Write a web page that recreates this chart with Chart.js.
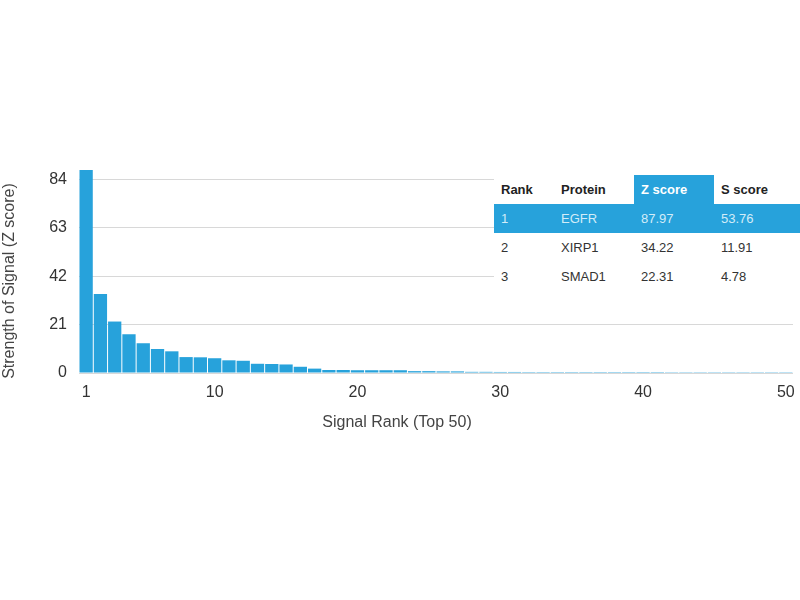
<!DOCTYPE html>
<html>
<head>
<meta charset="utf-8">
<script src="https://cdn.jsdelivr.net/npm/chart.js@4"></script>
<style>
  html, body { margin: 0; padding: 0; background: #ffffff; }
  #wrap { position: relative; width: 800px; height: 600px; }
  #c { position: absolute; left: 0; top: 0; }
  #tbl { position: absolute; left: 494px; top: 168px; width: 306px; background: #fff; padding-top: 7px; }
  #tbl table { border-collapse: collapse; width: 306px; font-family: "Liberation Sans", Arial, sans-serif; font-size: 13px; color: #333; }
  #tbl td, #tbl th { text-align: left; padding: 0 0 0 7px; height: 29px; vertical-align: middle; font-weight: normal; }
  #tbl th { font-weight: bold; color: #222; }
  #tbl th.hl { background: #27a2db; color: #fff; }
  #tbl tr.hl td { background: #27a2db; color: #d2ecf8; }
</style>
</head>
<body>
<div id="wrap">
  <canvas id="c" width="800" height="600"></canvas>
  <div id="tbl"></div>
</div>
<script>
// ---- data ----
const ranks = Array.from({length: 50}, (_, i) => String(i + 1));
const zScores = [87.97, 34.22, 22.31, 16.8, 12.9, 10.4, 9.4, 6.9, 6.8, 6.4,
                 5.5, 5.3, 4.0, 3.9, 3.7, 2.7, 1.9, 1.3, 1.3, 1.2,
                 1.2, 1.2, 1.2, 0.8, 0.8, 0.7, 0.7, 0.5, 0.5, 0.45,
                 0.45, 0.4, 0.4, 0.4, 0.4, 0.4, 0.4, 0.4, 0.4, 0.4,
                 0.4, 0.35, 0.35, 0.35, 0.35, 0.35, 0.35, 0.35, 0.35, 0.35];
const xTickLabels = ['1', '10', '20', '30', '40', '50'];
const yTickValues = [0, 21, 42, 63, 84];
const tableHeader = ['Rank', 'Protein', 'Z score', 'S score'];
const tableRank = ['1', '2', '3'];
const tableProtein = ['EGFR', 'XIRP1', 'SMAD1'];
const tableZ = ['87.97', '34.22', '22.31'];
const tableS = ['53.76', '11.91', '4.78'];
const xTitle = 'Signal Rank (Top 50)';
const yTitle = 'Strength of Signal (Z score)';

// ---- table ----
(function () {
  const colW = [60, 80, 80, 86];
  let h = '<table><colgroup>' + colW.map(w => '<col style="width:' + w + 'px">').join('') + '</colgroup>';
  h += '<tr>' + tableHeader.map((t, i) => '<th' + (i === 2 ? ' class="hl"' : '') + '>' + t + '</th>').join('') + '</tr>';
  for (let r = 0; r < tableRank.length; r++) {
    h += '<tr' + (r === 0 ? ' class="hl"' : '') + '><td>' + tableRank[r] + '</td><td>' + tableProtein[r] +
         '</td><td>' + tableZ[r] + '</td><td>' + tableS[r] + '</td></tr>';
  }
  h += '</table>';
  document.getElementById('tbl').innerHTML = h;
})();

const FONT = '"Liberation Sans", Arial, sans-serif';

const axisTitles = {
  id: 'axisTitles',
  afterDraw(chart) {
    const ctx = chart.ctx, a = chart.chartArea;
    ctx.save();
    ctx.fillStyle = '#444';
    ctx.font = '16px ' + FONT;
    ctx.textAlign = 'center';
    ctx.textBaseline = 'middle';
    ctx.fillText(xTitle, 397, a.bottom + 50);
    ctx.translate(10, a.top + 111);
    ctx.rotate(-Math.PI / 2);
    ctx.fillText(yTitle, 0, 0);
    ctx.restore();
  }
};

new Chart(document.getElementById('c'), {
  type: 'bar',
  data: {
    labels: ranks,
    datasets: [{
      data: zScores,
      backgroundColor: '#27a2db',
      borderWidth: 0,
      barPercentage: 0.93,
      categoryPercentage: 1.0
    }]
  },
  options: {
    responsive: false,
    animation: false,
    devicePixelRatio: 1,
    layout: { padding: { top: 170, left: 0, right: 7, bottom: 197 } },
    plugins: { legend: { display: false }, tooltip: { enabled: false } },
    scales: {
      x: {
        grid: { display: false, drawTicks: false },
        border: { display: false },
        ticks: {
          autoSkip: false, maxRotation: 0, padding: 10, color: '#333',
          font: { size: 16, family: FONT },
          callback: function (v, i) {
            const lab = ranks[i];
            return xTickLabels.includes(lab) ? lab : '';
          }
        },
        afterFit: s => { s.height = 30; s.paddingLeft = 0; s.paddingRight = 0; }
      },
      y: {
        min: 0, max: 88,
        afterBuildTicks: s => { s.ticks = yTickValues.map(v => ({ value: v })); },
        grid: { color: '#d8d8d8', drawTicks: false, lineWidth: 1 },
        border: { display: false },
        ticks: { padding: 12, color: '#333', font: { size: 16, family: FONT } },
        afterFit: s => { s.width = 79; s.paddingTop = 0; s.paddingBottom = 0; }
      }
    }
  },
  plugins: [axisTitles]
});
</script>
</body>
</html>
